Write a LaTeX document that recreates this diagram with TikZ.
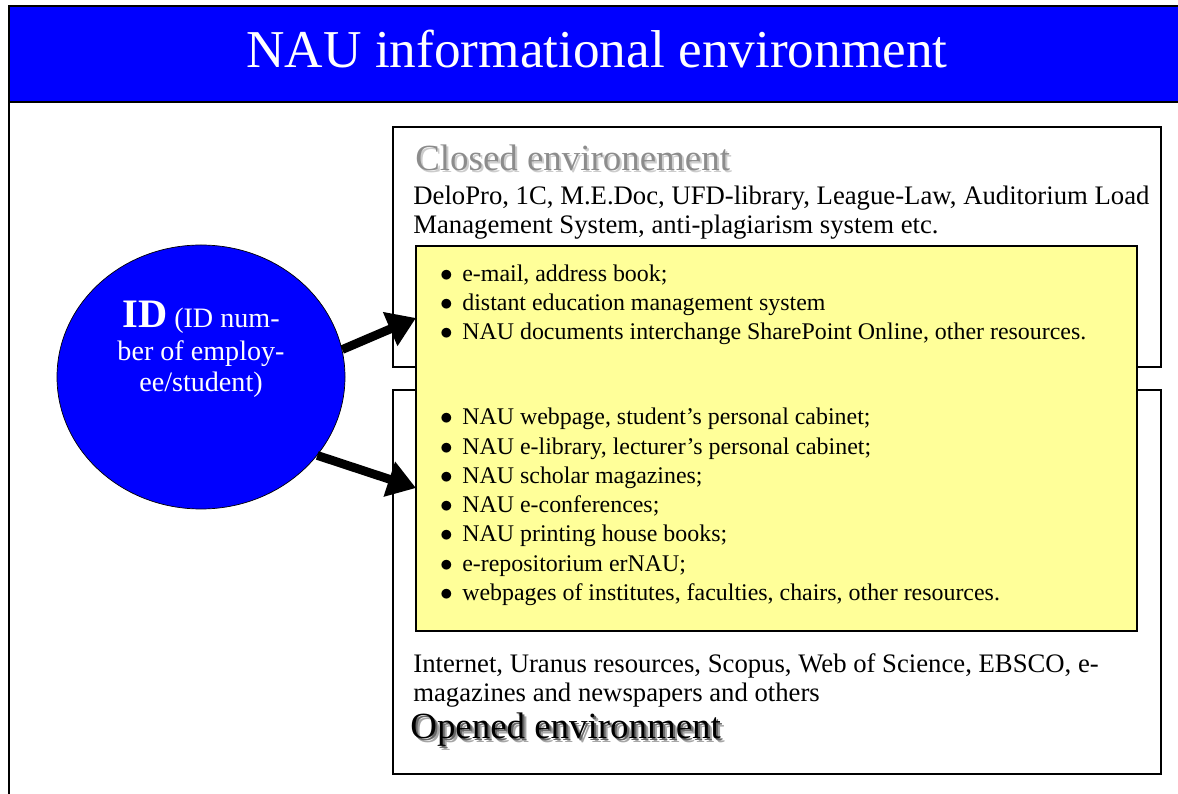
\documentclass[tikz,border=0pt]{standalone}
\usepackage{fontspec}
\setmainfont{Liberation Serif}
\usetikzlibrary{shapes.geometric,arrows.meta}
\definecolor{naublue}{RGB}{0,0,255}
\definecolor{paleyellow}{RGB}{255,255,153}
\tikzstyle{frame} = [draw, rectangle, line width=1.2pt, anchor=north west, inner sep=0pt, outer sep=0pt]
\tikzstyle{txt} = [anchor=base west, inner sep=0pt, font=\fontsize{15.2}{16.4}\selectfont]
\tikzstyle{item} = [anchor=base west, inner sep=0pt, font=\fontsize{13.6}{16.4}\selectfont, execute at begin node={\llap{$\bullet$\hspace{5.5pt}}}]
\tikzstyle{head} = [anchor=base west, inner sep=0pt, font=\fontsize{21}{25}\selectfont]
\tikzstyle{idtext} = [anchor=base, inner sep=0pt, text=white, font=\fontsize{16}{19}\selectfont]
\tikzstyle{idarrow} = [draw, line width=5pt, -{Triangle[length=16pt,width=20pt]}]

\begin{document}
\begin{tikzpicture}[x=0.2mm, y=-0.2mm]
        \useasboundingbox (0,0) rectangle (1178,794);
        % title band and outer frame
        \node[frame, fill=naublue, minimum width=234.6mm, minimum height=19.2mm] (title) at (9,6) {};
        \node[anchor=base, inner sep=0pt, text=white, font=\fontsize{30.3}{36}\selectfont] (titletext) at (597,68) {NAU informational environment};
        \coordinate (framebottom) at (9,794);
        \draw[line width=1.6pt] (title.south west) -- (framebottom);
        % environments
        \node[frame, minimum width=153.6mm, minimum height=48mm] (closed) at (393,127) {};
        \node[frame, minimum width=153.6mm, minimum height=76.8mm] (opened) at (393,390) {};
        \node[frame, fill=paleyellow, minimum width=144.2mm, minimum height=77mm] (shared) at (416,246) {};
        % closed environment texts
        \node[head, text=black!20] (closedshadow) at (417,173) {Closed environement};
        \node[head, text=black!45] (closedhead) at (415,171) {Closed environement};
        \node[txt] (closed1) at (413,205) {DeloPro, 1C, M.E.Doc, UFD-library, League-Law, Auditorium Load};
        \node[txt] (closed2) at (413,234) {Management System, anti-plagiarism system etc.};
        \node[item] (mail) at (462,282) {e-mail, address book;};
        \node[item] (distant) at (462,311) {distant education management system};
        \node[item] (docs) at (462,340) {NAU documents interchange SharePoint Online, other resources.};
        % opened environment texts
        \node[item] (webpage) at (462,425) {NAU webpage, student’s personal cabinet;};
        \node[item] (elibrary) at (462,454.2) {NAU e-library, lecturer’s personal cabinet;};
        \node[item] (scholar) at (462,483.4) {NAU scholar magazines;};
        \node[item] (econf) at (462,512.6) {NAU e-conferences;};
        \node[item] (printing) at (462,541.8) {NAU printing house books;};
        \node[item] (repo) at (462,571) {e-repositorium erNAU;};
        \node[item] (institutes) at (462,600.2) {webpages of institutes, faculties, chairs, other resources.};
        \node[txt] (opened1) at (413,672) {Internet, Uranus resources, Scopus, Web of Science, EBSCO, e-};
        \node[txt] (opened2) at (413,701) {magazines and newspapers and others};
        \node[head, text=black!35] (openedshadow2) at (414,742) {Opened environment};
        \node[head, text=black!60] (openedshadow1) at (412,740) {Opened environment};
        \node[head, text=black] (openedhead) at (410,738) {Opened environment};
        % ID circle
        \node[ellipse, draw, fill=naublue, minimum width=57.6mm, minimum height=52.8mm] (id) at (201,377) {};
        \node[idtext] (idline1) at (201,328) {{\fontsize{23}{25}\selectfont\bfseries ID} (ID num-};
        \node[idtext] (idline2) at (201,361) {ber of employ-};
        \node[idtext] (idline3) at (201,392) {ee/student)};
        % arrows
        \coordinate (tipclosed) at (416,318);
        \coordinate (tipopened) at (416,488);
        \path[idarrow] (id.11) -- (tipclosed);
        \path[idarrow] (id.-34) -- (tipopened);
    \end{tikzpicture}
\end{document}
